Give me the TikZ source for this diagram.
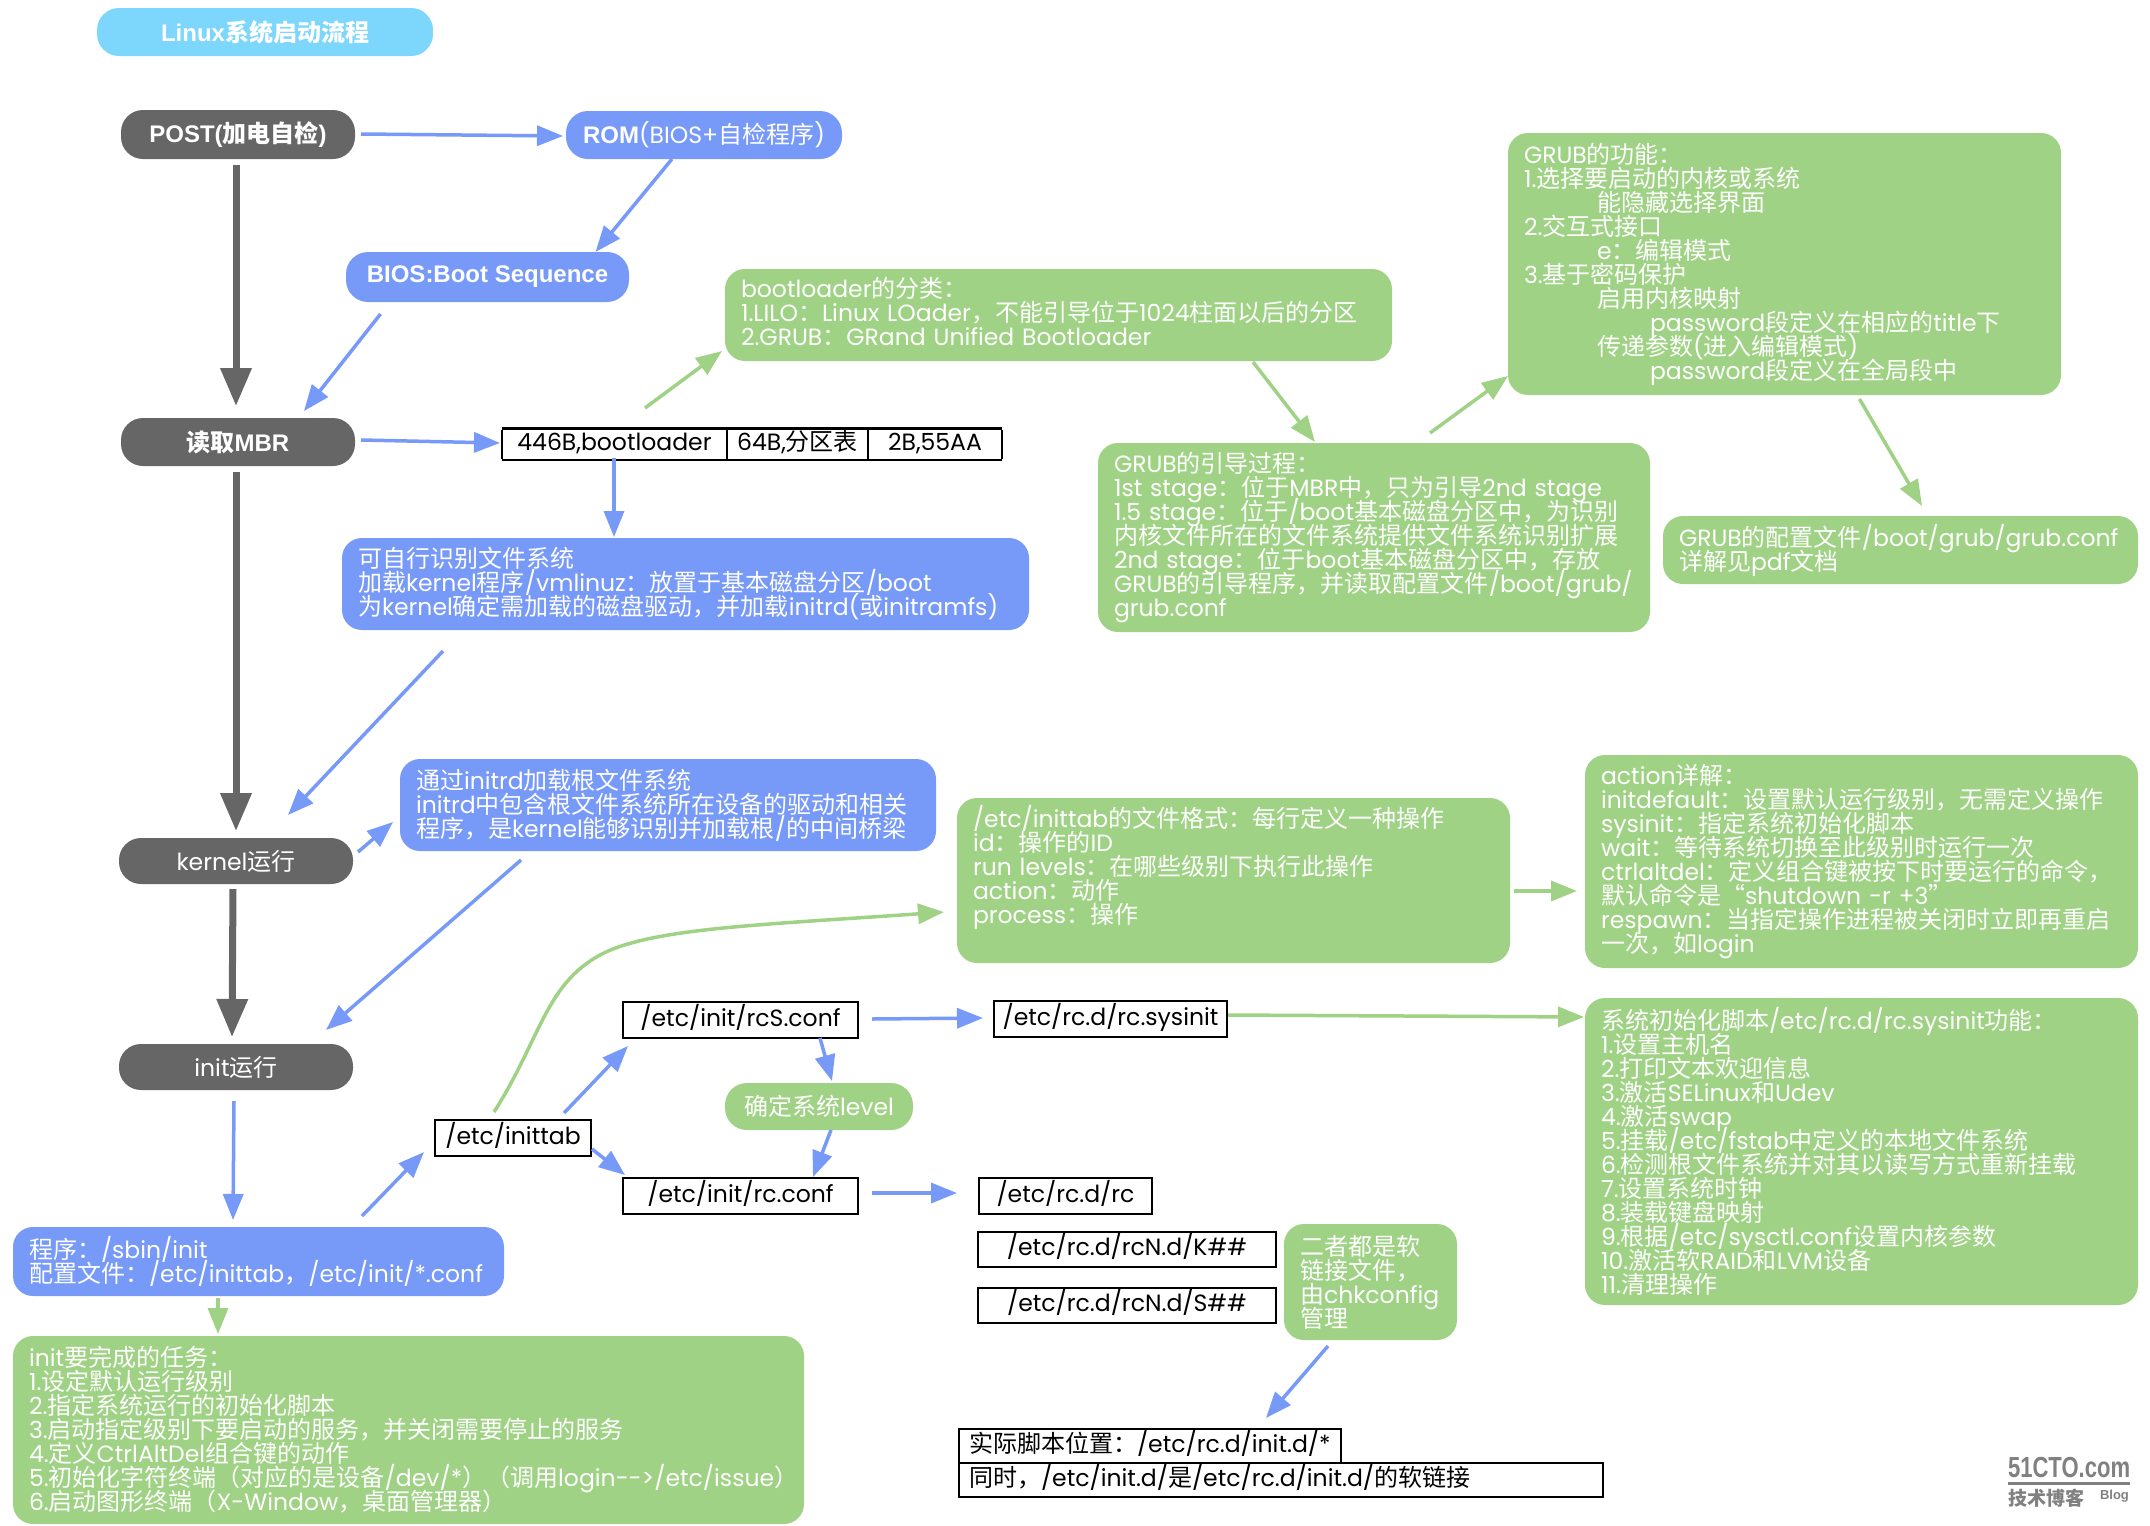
\documentclass[tikz,border=0pt]{standalone}
\usepackage{fontspec}
\usepackage{tikz}
\usetikzlibrary{calc,arrows.meta}

\setmainfont[Scale=0.98]{Poppins}
\newfontfamily\cjkfont{Noto Sans CJK SC}
\newfontfamily\helvfont{Liberation Sans}

% Chinese runs go to the CJK font by themselves
\newXeTeXintercharclass\cjkcls
\newcount\cjkcnt
\newcommand{\cjkrange}[2]{\cjkcnt=#1\relax
    \loop\XeTeXcharclass\cjkcnt=\cjkcls\ifnum\cjkcnt<#2\advance\cjkcnt by 1\repeat}
\cjkrange{"201C}{"201D}
\cjkrange{"3000}{"303F}
\cjkrange{"4E00}{"9FFF}
\cjkrange{"FF00}{"FFEF}
\XeTeXinterchartokenstate=1
\XeTeXinterchartoks 0 \cjkcls = {\begingroup\cjkfont}
\XeTeXinterchartoks 4095 \cjkcls = {\begingroup\cjkfont}
\XeTeXinterchartoks \cjkcls 0 = {\endgroup}
\XeTeXinterchartoks \cjkcls 4095 = {\endgroup}

\newcommand{\boxfont}{\fontsize{24}{24}\selectfont\lineskiplimit=-100pt}

\definecolor{box_green}{HTML}{9FD284}
\definecolor{box_blue}{HTML}{7799F8}
\definecolor{box_gray}{HTML}{666666}
\definecolor{box_sky}{HTML}{7DD6FC}

\tikzset{
    boxsize/.style 2 args={minimum width=#1pt, minimum height=#2pt, text width=#1pt-32pt},
    textbox/.style={anchor=north west, rounded corners=20pt, text=white, font=\boxfont, align=left, inner xsep=16pt},
    greenbox/.style={textbox, fill=box_green},
    bluebox/.style={textbox, fill=box_blue},
    graybox/.style={anchor=north west, rounded corners=22pt, fill=box_gray, text=white, font=\boxfont, align=center},
    pathbox/.style={anchor=north west, draw=black, line width=2.5pt, font=\boxfont, align=center,
        execute at end node={\rule[-10pt]{0pt}{10pt}}},
    bluearrow/.style={draw=box_blue, line width=3.5pt, -{Triangle[length=26pt,width=20pt]}},
    greenarrow/.style={draw=box_green, line width=3.5pt, -{Triangle[length=26pt,width=20pt]}},
    grayarrow/.style={draw=box_gray, line width=7pt, -{Triangle[length=38pt,width=30pt]}},
}

\begin{document}
\begin{tikzpicture}[x=1pt,y=-1pt,inner sep=0pt,outer sep=0pt]
    \useasboundingbox (0,0) rectangle (2150,1526);

    % title
    \node[graybox, fill=box_sky, minimum width=336pt, minimum height=48pt, font=\boxfont\helvfont\bfseries] (title) at (97,8)
    {Linux系统启动流程};

    % left column
    \node[graybox, minimum width=234pt, minimum height=49pt, font=\boxfont\helvfont\bfseries] (post) at (121,110)
    {POST(加电自检)};
    \node[graybox, minimum width=234pt, minimum height=48pt, font=\boxfont\helvfont\bfseries] (mbr) at (121,418)
    {读取MBR};
    \node[graybox, minimum width=234pt, minimum height=46pt] (kernel) at (119,838)
    {kernel运行};
    \node[graybox, minimum width=234pt, minimum height=46pt] (init_run) at (119,1044)
    {init运行};

    % blue boxes
    \node[graybox, fill=box_blue, minimum width=276pt, minimum height=48pt] (rom) at (566,111)
    {{\helvfont\bfseries ROM}(BIOS+自检程序)};
    \node[graybox, fill=box_blue, minimum width=283pt, minimum height=50pt, font=\boxfont\helvfont\bfseries] (bios) at (346,252)
    {BIOS:Boot Sequence};
    \node[bluebox, boxsize={687}{92}] (load_box) at (342,538)
    {
    可自行识别文件系统\\
    加载kernel程序/vmlinuz^^^^ff1a放置于基本磁盘分区/boot\\
    为kernel确定需加载的磁盘驱动^^^^ff0c并加载initrd(或initramfs)
    };
    \node[bluebox, boxsize={536}{92}] (initrd_box) at (400,759)
    {
    通过initrd加载根文件系统\\
    initrd中包含根文件系统所在设备的驱动和相关\\
    程序^^^^ff0c是kernel能够识别并加载根/的中间桥梁
    };
    \node[bluebox, boxsize={491}{69}] (init_cfg) at (13,1227)
    {
    程序^^^^ff1a/sbin/init\\
    配置文件^^^^ff1a/etc/inittab^^^^ff0c/etc/init/*.conf
    };

    % mbr table
    \node[anchor=north west, font=\boxfont] (mbr_table) at (502,427)
    {%
    \setlength{\tabcolsep}{0pt}%
    \setlength{\arrayrulewidth}{2.5pt}%
    \begin{tabular}{|c|c|c|}
    \hline
    \makebox[225pt]{\rule[-8pt]{0pt}{29pt}446B,bootloader} & \makebox[141pt]{64B,分区表} & \makebox[134pt]{2B,55AA} \\
    \hline
    \end{tabular}%
    };

    % green boxes
    \node[greenbox, boxsize={667}{92}] (boot_box) at (725,269)
    {
    bootloader的分类^^^^ff1a\\
    1.LILO^^^^ff1aLinux LOader^^^^ff0c不能引导位于1024柱面以后的分区\\
    2.GRUB^^^^ff1aGRand Unified Bootloader\rule[-7pt]{0pt}{7pt}
    };
    \node[greenbox, boxsize={553}{262}] (grub_func) at (1508,133)
    {
    GRUB的功能^^^^ff1a\\
    1.选择要启动的内核或系统\\
    \hspace*{73pt}能隐藏选择界面\\
    2.交互式接口\\
    \hspace*{73pt}e^^^^ff1a编辑模式\\
    3.基于密码保护\\
    \hspace*{73pt}启用内核映射\\
    \hspace*{126pt}password段定义在相应的title下\\
    \hspace*{73pt}传递参数(进入编辑模式)\\
    \hspace*{126pt}password段定义在全局段中
    };
    \node[greenbox, boxsize={552}{189}] (grub_boot) at (1098,443)
    {
    GRUB的引导过程^^^^ff1a\\
    1st stage^^^^ff1a位于MBR中^^^^ff0c只为引导2nd stage\\
    1.5 stage^^^^ff1a位于/boot基本磁盘分区中^^^^ff0c为识别\\
    内核文件所在的文件系统提供文件系统识别扩展\\
    2nd stage^^^^ff1a位于boot基本磁盘分区中^^^^ff0c存放\\
    GRUB的引导程序^^^^ff0c并读取配置文件/boot/grub/\\
    grub.conf
    };
    \node[greenbox, boxsize={475}{68}] (grub_conf) at (1663,516)
    {
    GRUB的配置文件/boot/grub/grub.conf\\
    详解见pdf文档
    };
    \node[greenbox, boxsize={553}{165}] (format_box) at (957,798)
    {
    /etc/inittab的文件格式^^^^ff1a每行定义一种操作\\
    id^^^^ff1a操作的ID\\
    run levels^^^^ff1a在哪些级别下执行此操作\\
    action^^^^ff1a动作\\
    process^^^^ff1a操作\rule[-33pt]{0pt}{33pt}
    };
    \node[greenbox, boxsize={553}{213}] (action_box) at (1585,755)
    {
    action详解^^^^ff1a\\
    initdefault^^^^ff1a设置默认运行级别^^^^ff0c无需定义操作\\
    sysinit^^^^ff1a指定系统初始化脚本\\
    wait^^^^ff1a等待系统切换至此级别时运行一次\\
    ctrlaltdel^^^^ff1a定义组合键被按下时要运行的命令^^^^ff0c\\
    默认命令是“shutdown -r +3”\\
    respawn^^^^ff1a当指定操作进程被关闭时立即再重启\\
    一次^^^^ff0c如login
    };
    \node[greenbox, boxsize={553}{307}] (sysinit_box) at (1585,998)
    {
    系统初始化脚本/etc/rc.d/rc.sysinit功能^^^^ff1a\\
    1.设置主机名\\
    2.打印文本欢迎信息\\
    3.激活SELinux和Udev\\
    4.激活swap\\
    5.挂载/etc/fstab中定义的本地文件系统\\
    6.检测根文件系统并对其以读写方式重新挂载\\
    7.设置系统时钟\\
    8.装载键盘映射\\
    9.根据/etc/sysctl.conf设置内核参数\\
    10.激活软RAID和LVM设备\\
    11.清理操作
    };
    \node[greenbox, boxsize={791}{188}] (init_task) at (13,1336)
    {
    init要完成的任务^^^^ff1a\\
    1.设定默认运行级别\\
    2.指定系统运行的初始化脚本\\
    3.启动指定级别下要启动的服务^^^^ff0c并关闭需要停止的服务\\
    4.定义CtrlAltDel组合键的动作\\
    5.初始化字符终端^^^^ff08对应的是设备/dev/*^^^^ff09^^^^ff08调用\mbox{login-{}->/etc/issue}^^^^ff09\\
    6.启动图形终端^^^^ff08X-Window^^^^ff0c桌面管理器^^^^ff09
    };
    \node[greenbox, boxsize={173}{116}] (soft_link) at (1284,1224)
    {
    二者都是软\\
    链接文件^^^^ff0c\\
    由chkconfig\\
    管理
    };
    \node[graybox, fill=box_green, minimum width=188pt, minimum height=47pt] (level_box) at (725,1083)
    {确定系统level};

    % file boxes
    \node[pathbox, minimum width=156pt, minimum height=36pt] (inittab) at (435,1120) {/etc/inittab};
    \node[pathbox, minimum width=235pt, minimum height=36pt] (rcs_conf) at (623,1002) {/etc/init/rcS.conf};
    \node[pathbox, minimum width=235pt, minimum height=36pt] (rc_conf) at (623,1178) {/etc/init/rc.conf};
    \node[pathbox, minimum width=233pt, minimum height=36pt] (rc_sysinit) at (994,1001) {/etc/rc.d/rc.sysinit};
    \node[pathbox, minimum width=173pt, minimum height=36pt] (rc_d) at (979,1178) {/etc/rc.d/rc};
    \node[pathbox, minimum width=298pt, minimum height=35pt] (rc_k) at (978,1232) {/etc/rc.d/rcN.d/K\#\#};
    \node[pathbox, minimum width=298pt, minimum height=35pt] (rc_s) at (978,1288) {/etc/rc.d/rcN.d/S\#\#};
    \node[pathbox, boxsize={382}{34}, text width=362pt, align=left] (real_path) at (959,1429)
    {实际脚本位置^^^^ff1a/etc/rc.d/init.d/*};
    \node[pathbox, boxsize={644}{34}, text width=624pt, align=left] (same_path) at (959,1463)
    {同时^^^^ff0c/etc/init.d/是/etc/rc.d/init.d/的软链接};

    % watermark
    \node[anchor=base west, text=gray, font=\fontsize{29}{29}\selectfont\helvfont\bfseries, xscale=0.76] (wm_site) at (2008,1477) {51CTO.com};
    \draw[gray, line width=3pt] ($(wm_site.base west)+(0,6)$) -- ($(wm_site.base east)+(0,6)$);
    \node[anchor=north west, text=gray, font=\fontsize{19}{19}\selectfont\bfseries] (wm_blog) at (2008,1489) {技术博客};
    \node[anchor=base west, text=gray, font=\fontsize{13}{13}\selectfont\helvfont\bfseries] (wm_tag) at (2100,1499) {Blog};

    % gray arrows
    \draw[grayarrow] ($(post.south)+(-2,6)$) -- ($(mbr.north)+(-2,-12)$);
    \draw[grayarrow] ($(mbr.south)+(-2,6)$) -- ($(kernel.north)+(0,-7)$);
    \draw[grayarrow] ($(kernel.south)+(-3,5)$) -- ($(init_run.north)+(-4,-7)$);

    % blue arrows
    \draw[bluearrow] ($(post.east)+(6,-0.5)$) -- ($(rom.west)+(-3,1)$);
    \draw[bluearrow] ($(rom.south)+(-32,0)$) -- ($(bios.north)+(108,0)$);
    \draw[bluearrow] ($(bios.south)+(-107,12)$) -- ($(mbr.north)+(66,-7)$);
    \draw[bluearrow] ($(mbr.east)+(6,-2)$) -- ($(mbr_table.west)+(-2,-1)$);
    \draw[bluearrow] ($(mbr_table.south)+(-138,-3)$) -- ($(load_box.north)+(-71.5,-1)$);
    \draw[bluearrow] ($(load_box.south)+(-242.5,21)$) -- ($(kernel.north)+(52,-23)$);
    \draw[bluearrow] ($(kernel.east)+(5,-9)$) -- ($(initrd_box.west)+(-7,17)$);
    \draw[bluearrow] ($(initrd_box.south)+(-147,9)$) -- ($(init_run.north)+(90,-14)$);
    \draw[bluearrow] ($(init_run.south)+(-2,11)$) -- ($(init_cfg.north)+(-25.5,-7)$);
    \draw[bluearrow] ($(init_cfg.north)+(103.5,-11)$) -- ($(inittab.west)+(-11,14)$);
    \draw[bluearrow] ($(inittab.north)+(51,-7)$) -- ($(rcs_conf.west)+(5,26)$);
    \draw[bluearrow] ($(inittab.east)+(1,11)$) -- ($(rc_conf.west)+(2,-21)$);
    \draw[bluearrow] ($(rcs_conf.east)+(14,-1)$) -- ($(rc_sysinit.west)+(-11,-1)$);
    \draw[bluearrow] ($(rcs_conf.south)+(79.5,0)$) -- ($(level_box.north)+(13,-2)$);
    \draw[bluearrow] ($(level_box.south)+(12,0)$) -- ($(rc_conf.north)+(72.5,-1)$);
    \draw[bluearrow] ($(rc_conf.east)+(14,-3)$) -- ($(rc_d.west)+(-22,-3)$);
    \draw[bluearrow] ($(soft_link.south)+(-42.5,6)$) -- ($(real_path.north)+(116,-11)$);

    % green arrows
    \draw[greenarrow] ($(mbr_table.north)+(-107,-19)$) -- ($(boot_box.south west)+(-3,-10)$);
    \draw[greenarrow] ($(boot_box.south)+(194.5,1)$) -- ($(grub_boot.north)+(-59,-1)$);
    \draw[greenarrow] ($(grub_boot.north)+(56,-10)$) -- ($(grub_func.west)+(0,112)$);
    \draw[greenarrow] ($(grub_func.south)+(75,4)$) -- ($(grub_conf.north)+(21.5,-10)$);
    \draw[greenarrow] ($(init_cfg.south)+(-40.5,2)$) -- ($(init_task.north)+(-190.5,-2)$);
    \draw[greenarrow] ($(inittab.north)+(-19,-8)$) .. controls (540,1040) and (545,985) .. (600,955)
        .. controls (650,928) and (760,925) .. ($(format_box.west)+(-13,31.5)$);
    \draw[greenarrow] ($(format_box.east)+(4,10.5)$) -- ($(action_box.west)+(-8,29.5)$);
    \draw[greenarrow] ($(rc_sysinit.east)+(1,-4)$) -- ($(sysinit_box.north west)+(-1,19)$);
\end{tikzpicture}
\end{document}
